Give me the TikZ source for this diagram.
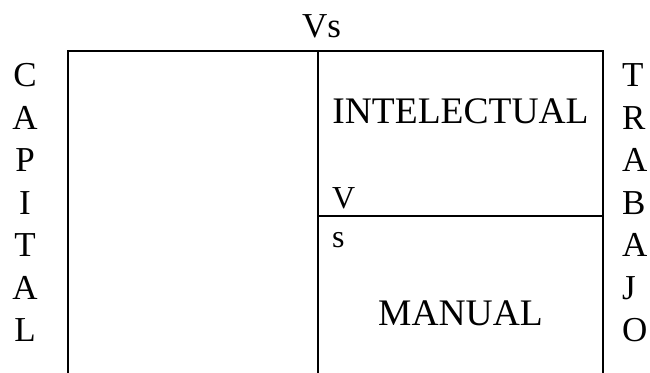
\documentclass[tikz,border=0pt]{standalone}
\usepackage{fontspec}
\setmainfont{Liberation Serif}
\begin{document}
\begin{tikzpicture}[x=1bp,y=-1bp,
  rule/.style={line width=2.5bp, line cap=butt},
  side/.style={inner sep=0pt, font=\fontsize{35bp}{35bp}\selectfont},
  big/.style={inner sep=0pt, anchor=base, font=\fontsize{37.5bp}{37.5bp}\selectfont},
  small/.style={inner sep=0pt, anchor=base west, font=\fontsize{32bp}{32bp}\selectfont}]
\useasboundingbox (0,0) rectangle (650,372);
% frame
\coordinate (tl) at (68,51);
\coordinate (tm) at (318,51);
\coordinate (tr) at (603,51);
\coordinate (bl) at (68,374);
\coordinate (bm) at (318,374);
\coordinate (br) at (603,374);
\coordinate (dl) at (318,216);
\coordinate (dr) at (603,216);
\draw[rule, line cap=rect] (tl) -- (tr);
\draw[rule] (tl) -- (bl);
\draw[rule] (tm) -- (bm);
\draw[rule] (tr) -- (br);
\draw[rule] (dl) -- (dr);
% labels
\node[side, anchor=base] (vs) at (321.5,37) {Vs};
\node[big] (intel) at (460.5,123) {INTELECTUAL};
\node[big] (manual) at (460.5,325) {MANUAL};
\node[small] (v) at (332,208) {V};
\node[small] (s) at (332,247) {s};
\foreach \ch [count=\i from 0] in {C,A,P,I,T,A,L}
  \node[side, anchor=base] (cap\i) at (25,86.5+42.5*\i) {\ch};
\foreach \ch [count=\i from 0] in {T,R,A,B,A,J,O}
  \node[side, anchor=base west] (trab\i) at (622,86.5+42.5*\i) {\ch};
\end{tikzpicture}
\end{document}
